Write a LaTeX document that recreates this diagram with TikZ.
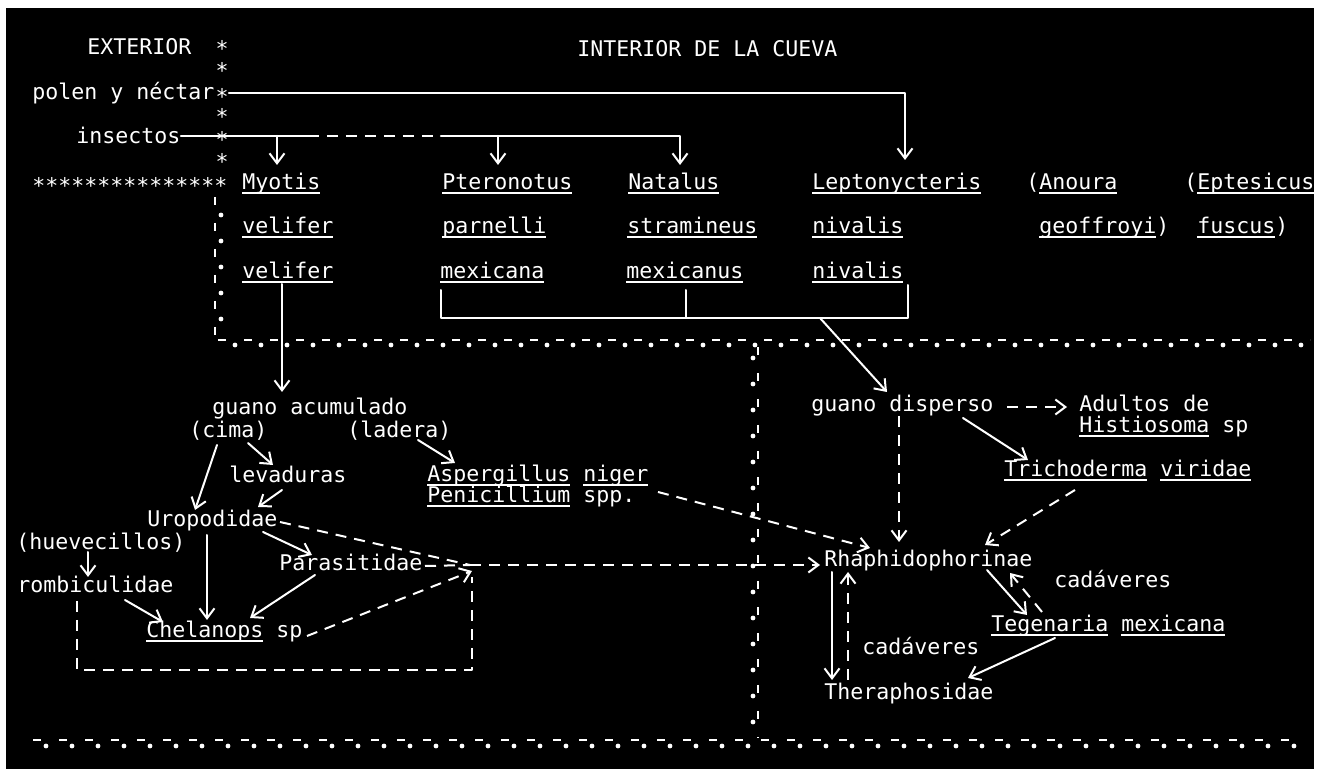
\documentclass[tikz,border=0pt]{standalone}
\usepackage{fontspec}
\setmainfont{DejaVu Sans Mono}
\usetikzlibrary{arrows.meta,calc}
\newcommand\ulw[1]{\setbox0\hbox{#1}\rlap{\rule[-1.8pt]{\wd0}{0.9pt}}\box0\relax}
\begin{document}
\begin{tikzpicture}[x=0.5pt,y=-0.5pt, font=\fontsize{10.8}{13}\selectfont,
 txt/.style={inner sep=0pt, anchor=base west, text=white},
 astk/.style={inner sep=0pt, text height=2.2pt, text depth=2.2pt, text=white},
 ln/.style={draw=white, line width=1pt, line cap=round, line join=round},
 arr/.style={ln, -{Straight Barb[length=5pt,width=7.5pt]}},
 dsh/.style={ln, line cap=butt, dash pattern=on 5.5pt off 4pt},
 darr/.style={dsh, -{Straight Barb[length=5pt,width=7.5pt]}},
 bdash/.style={draw=white, line width=1.3pt, dash pattern=on 4pt off 9pt},
 bdot/.style={draw=white, line width=2.4pt, line cap=round, dash pattern=on 0pt off 13pt}]
\useasboundingbox (0,0) rectangle (1324,769);
\fill[white] (0,0) rectangle (1324,769);
\fill[black] (6,8) rectangle (1314,769);

% headings and inputs
\node[txt] (ext) at (87,55) {EXTERIOR};
\node[txt] (intr) at (577,57) {INTERIOR DE LA CUEVA};
\node[txt] (pol) at (32,100) {polen y néctar};
\node[txt] (ins) at (76,144) {insectos};
\node[astk] (s1) at (222,45) {\raisebox{-5.9pt}{*}};
\node[astk] (s2) at (222,67) {\raisebox{-5.9pt}{*}};
\node[astk] (s3) at (222,93) {\raisebox{-5.9pt}{*}};
\node[astk] (s4) at (222,113) {\raisebox{-5.9pt}{*}};
\node[astk] (s5) at (222,136) {\raisebox{-5.9pt}{*}};
\node[astk] (s6) at (222,158) {\raisebox{-5.9pt}{*}};
\node[astk, anchor=west] (srow) at (32,182) {\raisebox{-5.9pt}{***************}};

% bats
\node[txt] (myo) at (242,190) {\ulw{Myotis}};
\node[txt] (vel1) at (242,234) {\ulw{velifer}};
\node[txt] (vel2) at (242,279) {\ulw{velifer}};
\node[txt] (pte) at (442,190) {\ulw{Pteronotus}};
\node[txt] (par) at (442,234) {\ulw{parnelli}};
\node[txt] (mexa) at (440,279) {\ulw{mexicana}};
\node[txt] (nat) at (628,190) {\ulw{Natalus}};
\node[txt] (stra) at (627,234) {\ulw{stramineus}};
\node[txt] (mexs) at (626,279) {\ulw{mexicanus}};
\node[txt] (lep) at (812,190) {\ulw{Leptonycteris}};
\node[txt] (niv1) at (812,234) {\ulw{nivalis}};
\node[txt] (niv2) at (812,279) {\ulw{nivalis}};
\node[txt] (ano) at (1026,190) {(\ulw{Anoura}};
\node[txt] (geo) at (1039,234) {\ulw{geoffroyi})};
\node[txt] (ept) at (1184,190) {(\ulw{Eptesicus}};
\node[txt] (fus) at (1197,234) {\ulw{fuscus})};

% lower left
\node[txt] (ga) at (212,415) {guano acumulado};
\node[txt] (cima) at (189,438) {(cima)};
\node[txt] (lad) at (347,438) {(ladera)};
\node[txt] (lev) at (229,483) {levaduras};
\node[txt] (asp) at (427,482) {\ulw{Aspergillus} \ulw{niger}};
\node[txt] (pen) at (427,503) {\ulw{Penicillium} spp.};
\node[txt] (uro) at (147,527) {Uropodidae};
\node[txt] (huev) at (16,550) {(huevecillos)};
\node[txt] (para) at (279,571) {Parasitidae};
\node[txt] (romb) at (17,593) {rombiculidae};
\node[txt] (chel) at (146,638) {\ulw{Chelanops} sp};

% lower right
\node[txt] (gd) at (811,412) {guano disperso};
\node[txt] (adu) at (1079,412) {Adultos de};
\node[txt] (his) at (1079,433) {\ulw{Histiosoma} sp};
\node[txt] (tri) at (1004,477) {\ulw{Trichoderma} \ulw{viridae}};
\node[txt] (rha) at (824,567) {Rhaphidophorinae};
\node[txt] (cad1) at (1054,588) {cadáveres};
\node[txt] (teg) at (991,632) {\ulw{Tegenaria} \ulw{mexicana}};
\node[txt] (cad2) at (862,655) {cadáveres};
\node[txt] (the) at (824,700) {Theraphosidae};

% boundaries
\draw[bdash] (215,197) -- (215,336);
\draw[bdot] (221,215) -- (221,340);
\draw[bdash] (218,340) -- (1310,340);
\draw[bdot] (235,345) -- (1310,345);
\draw[bdash] (758,347) -- (758,738);
\draw[bdot] (753,358) -- (753,742);
\draw[bdash] (33,740) -- (1305,740);
\draw[bdot] (46,746) -- (1305,746);

% inputs
\draw[arr] (s3.east) -| ($(lep.base west)+(93,-30)$);
\coordinate (iA) at ($(ins.east)+(127,0)$);
\coordinate (iB) at ($(ins.east)+(260,0)$);
\draw[ln] (ins.east) -- (iA);
\draw[dsh] (iA) -- (iB);
\draw[arr] (iB) -| ($(nat.base west)+(52,-25)$);
\draw[arr] ($(myo.base west)+(35,-54)$) -- ($(myo.base west)+(35,-25)$);
\draw[arr] ($(pte.base west)+(56,-54)$) -- ($(pte.base west)+(56,-25)$);

% bracket
\draw[ln] ($(mexa.base west)+(1,11)$) |- ($(niv2.base west)+(96,39)$) -- ($(niv2.base west)+(96,6)$);
\draw[ln] ($(mexs.base west)+(60,11)$) -- ($(mexs.base west)+(60,39)$);
\draw[arr] ($(niv2.base west)+(8,39)$) -- ($(gd.base west)+(76,-20)$);

% lower left solid
\draw[arr] ($(vel2.base west)+(40,5)$) -- ($(ga.base west)+(70,-23)$);
\draw[arr] ($(cima.base west)+(28,7)$) -- ($(uro.base west)+(48,-17)$);
\draw[arr] ($(cima.base west)+(59,5)$) -- ($(lev.base west)+(44,-18)$);
\draw[arr] ($(lev.base west)+(53,7)$) -- ($(uro.base west)+(111,-20)$);
\draw[arr] ($(lad.base west)+(71,2)$) -- ($(asp.base west)+(28,-19)$);
\draw[arr] ($(uro.base west)+(116,5)$) -- ($(para.base west)+(33,-16)$);
\draw[arr] ($(uro.base west)+(60,8)$) -- ($(chel.base west)+(61,-18)$);
\draw[arr] ($(para.base west)+(36,4)$) -- ($(chel.base west)+(104,-20)$);
\draw[arr] ($(huev.base west)+(72,2)$) -- ($(romb.base west)+(71,-16)$);
\draw[arr] ($(romb.base west)+(108,7)$) -- ($(chel.base west)+(17,-16)$);

% lower left dashed
\coordinate (J) at ($(para.base west)+(191,-6)$);
\draw[dsh] ($(uro.base west)+(133,-5)$) -- (J);
\draw[dsh] ($(para.base west)+(146,-5)$) -- (J);
\draw[darr] ($(chel.base west)+(161,-2)$) -- ($(J)+(2,6)$);
\draw[dsh] ($(romb.base west)+(60,8)$) |- ($(J)+(2,105)$) -- ($(J)+(2,12)$);
\draw[darr] (J) -- ($(rha.base west)+(-4,-2)$);
\draw[darr] ($(asp.base west)+(231,10)$) -- ($(rha.base west)+(46,-19)$);

% right
\draw[darr] ($(gd.base west)+(196,-5)$) -- ($(adu.base west)+(-12,-5)$);
\draw[darr] ($(gd.base west)+(88,4)$) -- ($(rha.base west)+(75,-25)$);
\draw[arr] ($(gd.base west)+(152,6)$) -- ($(tri.base west)+(24,-17)$);
\draw[darr] ($(tri.base west)+(71,13)$) -- ($(rha.base west)+(161,-22)$);
\draw[arr] ($(rha.base west)+(8,5)$) -- ($(the.base west)+(8,-20)$);
\draw[darr] ($(the.base west)+(24,-20)$) -- ($(rha.base west)+(24,5)$);
\draw[arr] ($(rha.base west)+(163,3)$) -- ($(teg.base west)+(36,-17)$);
\draw[darr] ($(teg.base west)+(51,-20)$) -- ($(rha.base west)+(186,6)$);
\draw[arr] ($(teg.base west)+(64,6)$) -- ($(the.base west)+(144,-22)$);
\end{tikzpicture}
\end{document}
